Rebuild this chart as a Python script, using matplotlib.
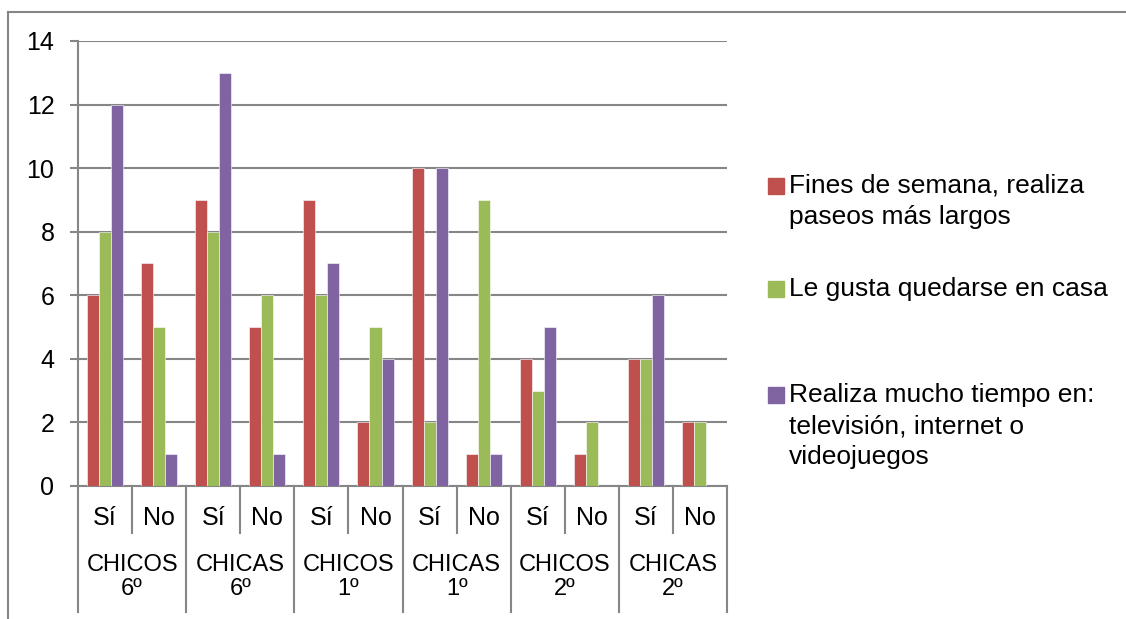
import matplotlib.pyplot as plt
from matplotlib.lines import Line2D
from matplotlib.patches import Rectangle
import numpy as np

groups = ["CHICOS\n6º", "CHICAS\n6º", "CHICOS\n1º", "CHICAS\n1º", "CHICOS\n2º", "CHICAS\n2º"]
answers = ["Sí", "No"]

series_names = ["Fines de semana, realiza\npaseos más largos",
                "Le gusta quedarse en casa",
                "Realiza mucho tiempo en:\ntelevisión, internet o\nvideojuegos"]
paseos = [6, 7, 9, 5, 9, 2, 10, 1, 4, 1, 4, 2]
casa = [8, 5, 8, 6, 6, 5, 2, 9, 3, 2, 4, 2]
pantallas = [12, 1, 13, 1, 7, 4, 10, 1, 5, 0, 6, 0]
colors = ["#C0504D", "#9BBB59", "#8064A2"]

plt.rcParams["font.family"] = ["Liberation Sans", "DejaVu Sans"]
grey = "#868686"

fig = plt.figure(figsize=(11.26, 6.19), dpi=100)
ax = fig.add_axes([0.0693, 0.2149, 0.5764, 0.7189])

n = len(paseos)
x = np.arange(n)
w = 1 / 4.5
for k, vals in enumerate([paseos, casa, pantallas]):
    ax.bar(x + (k - 1) * w, vals, w, color=colors[k], edgecolor="white",
           linewidth=0.4, zorder=3)

ax.set_xlim(-0.5, n - 0.5)
ax.set_ylim(0, 14)
ax.set_yticks(range(0, 15, 2))
ax.yaxis.grid(True, color=grey, linewidth=1.5, zorder=0)
ax.tick_params(axis="y", labelsize=18, length=6, width=1.5, color=grey, pad=11)
ax.set_xticks([])
for s in ["top", "right"]:
    ax.spines[s].set_visible(False)
for s in ["left", "bottom"]:
    ax.spines[s].set_color(grey)
    ax.spines[s].set_linewidth(1.5)

# two-level category axis
tr = ax.get_xaxis_transform()
for i in range(n):
    ax.text(i, -0.073, answers[i % 2], transform=tr, ha="center", va="center",
            fontsize=18)
for g, name in enumerate(groups):
    ax.text(2 * g + 0.5, -0.205, name, transform=tr, ha="center", va="center",
            fontsize=17, linespacing=1.15)
for b in range(n + 1):
    depth = -0.283 if b % 2 == 0 else -0.106
    ax.add_line(Line2D([b - 0.5, b - 0.5], [0, depth], transform=tr,
                       color=grey, linewidth=1.5, clip_on=False))

# legend
W, H = 1126, 619
leg_y = [186, 289, 395]
for k in range(3):
    y = 1 - leg_y[k] / H
    fig.patches.append(Rectangle((768 / W, y - 8 / H), 16 / W, 16 / H,
                                 transform=fig.transFigure, color=colors[k]))
    fig.text(789 / W, y + 12 / H, series_names[k], ha="left", va="top",
             fontsize=19, linespacing=1.38)

# chart frame
fig.add_artist(Line2D([8 / W, 8 / W], [0, 1 - 12 / H], color=grey, linewidth=1.5))
fig.add_artist(Line2D([8 / W, 1], [1 - 12 / H, 1 - 12 / H], color=grey, linewidth=1.5))

fig.savefig("out.png", dpi=100)
